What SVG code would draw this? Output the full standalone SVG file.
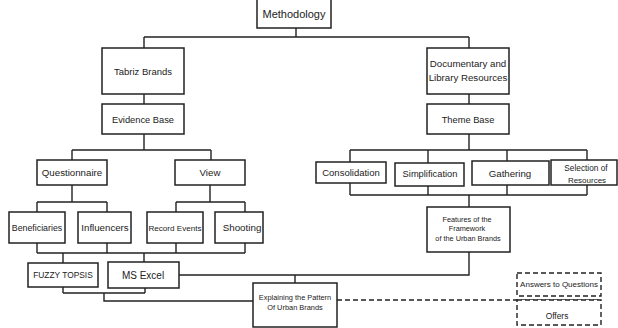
<svg xmlns="http://www.w3.org/2000/svg" width="618" height="328" viewBox="0 0 618 328">
<style>
rect.b{fill:#fff;stroke:#222;stroke-width:1.5}
rect.d{fill:#fff;stroke:#222;stroke-width:1.4;stroke-dasharray:5 3}
#connectors path{fill:none;stroke:#222;stroke-width:1.4}
#connectors path.dash{stroke-dasharray:5 3}
text{font-family:"Liberation Sans",Arial,sans-serif;fill:#222;text-anchor:middle}
</style>
<rect width="618" height="328" fill="#fff"/>
<g id="connectors">
<path d="M296 28V37M144 37H469M144 37V48M469 37V48"/>
<path d="M144 94V104M469 94V104"/>
<path d="M144 134V150M72 150H211M72 150V160M211 150V160"/>
<path d="M72 185V202M37 202H107M37 202V212M107 202V212"/>
<path d="M210 185V202M176 202H245M176 202V212M245 202V212"/>
<path d="M37 243V253M107 243V253M176 243V253M245 243V253M37 253H245M63 253V263M144 253V262"/>
<path d="M63 287V293M145 288V293M63 293H145M104 293V301H253"/>
<path d="M179 275H469V252M295 275V283"/>
<path d="M469 134V150M350 150H587M350 150V162M428 150V163M507 150V161M587 150V160"/>
<path d="M350 183V195M428 186V195M507 185V195M587 185V195M350 195H587M469 195V207"/>
<path class="dash" d="M337 300H601"/>
</g>
<g id="methodology"><rect class="b" x="257" y="-2" width="74" height="30"/><text x="294" y="18" font-size="11">Methodology</text></g>
<g id="tabriz"><rect class="b" x="102" y="48" width="82" height="46"/><text x="143" y="75" font-size="9.5">Tabriz Brands</text></g>
<g id="documentary"><rect class="b" x="427" y="48" width="82" height="46"/><text x="468" y="66.5" font-size="9.7">Documentary and</text><text x="468" y="80.5" font-size="9.7">Library Resources</text></g>
<g id="evidence"><rect class="b" x="102" y="104" width="82" height="30"/><text x="143" y="123" font-size="9.3">Evidence Base</text></g>
<g id="theme"><rect class="b" x="427" y="104" width="82" height="30"/><text x="468" y="123" font-size="9.3">Theme Base</text></g>
<g id="questionnaire"><rect class="b" x="37" y="160" width="70" height="25"/><text x="72" y="175.5" font-size="9.7">Questionnaire</text></g>
<g id="view"><rect class="b" x="175" y="160" width="70" height="25"/><text x="210" y="175.5" font-size="9.7">View</text></g>
<g id="consolidation"><rect class="b" x="316" y="162" width="70" height="21"/><text x="351" y="175.5" font-size="9.5">Consolidation</text></g>
<g id="simplification"><rect class="b" x="395" y="163" width="69" height="23"/><text x="430" y="177" font-size="9.3">Simplification</text></g>
<g id="gathering"><rect class="b" x="472" y="161" width="77" height="24"/><text x="510" y="176.5" font-size="9.7">Gathering</text></g>
<g id="selection"><rect class="b" x="551" y="160" width="66" height="25"/><text x="586" y="170.5" font-size="8.3">Selection of</text><text x="587" y="182.5" font-size="8">Resources</text></g>
<g id="beneficiaries"><rect class="b" x="9" y="212" width="56" height="31"/><text x="37" y="230.5" font-size="8.8">Beneficiaries</text></g>
<g id="influencers"><rect class="b" x="78" y="212" width="53" height="31"/><text x="105" y="230.5" font-size="9.7">Influencers</text></g>
<g id="record"><rect class="b" x="147" y="212" width="56" height="31"/><text x="175" y="230.5" font-size="8.1">Record Events</text></g>
<g id="shooting"><rect class="b" x="215" y="212" width="48" height="31"/><text x="242" y="230.5" font-size="9.8">Shooting</text></g>
<g id="fuzzy"><rect class="b" x="28" y="263" width="70" height="24"/><text x="63" y="278" font-size="8.4">FUZZY TOPSIS</text></g>
<g id="excel"><rect class="b" x="108" y="262" width="71" height="26"/><text x="143" y="278.5" font-size="10">MS Excel</text></g>
<g id="features"><rect class="b" x="427" y="207" width="83" height="45"/><text x="467" y="221.5" font-size="7.3">Features of the</text><text x="467" y="231" font-size="7.3">Framework</text><text x="468" y="240.5" font-size="7.3">of the Urban Brands</text></g>
<g id="explaining"><rect class="b" x="253" y="283" width="84" height="44"/><text x="295" y="299.5" font-size="7.4">Explaining the Pattern</text><text x="295" y="309.5" font-size="7.4">Of Urban Brands</text></g>
<g id="answers"><rect class="d" x="517" y="273" width="84" height="23"/><text x="559" y="287" font-size="8">Answers to Questions</text></g>
<g id="offers"><rect class="d" x="517" y="300" width="84" height="25"/><text x="557" y="318.5" font-size="8.4">Offers</text></g>
</svg>
